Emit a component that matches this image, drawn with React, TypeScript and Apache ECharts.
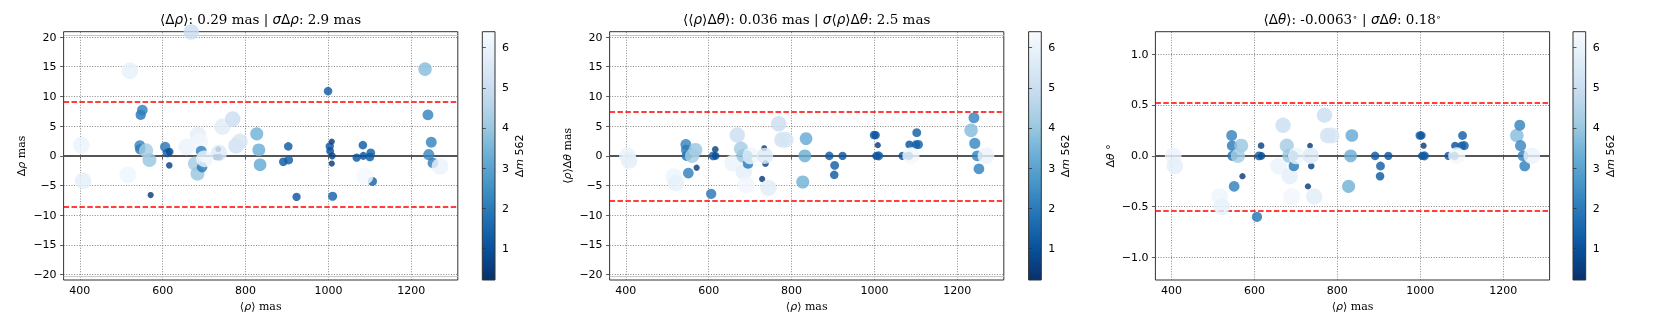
import React, { useEffect, useRef } from 'react';
import * as echarts from 'echarts';

// ---- data ----
const rho = [404, 408, 516, 521, 545, 546, 547, 551, 568, 560, 571, 606, 611, 616, 617, 669, 658, 678, 685, 690, 684, 693, 695, 701, 734, 729, 737, 736, 744, 769, 777, 786, 827, 835, 832, 891, 904, 903, 923, 999, 1003, 1008, 1004, 1009, 1008, 1010, 1068, 1083, 1084, 1102, 1100, 1106, 1088, 1233, 1240, 1242, 1248, 1252, 1269];
const dm = [6.0, 5.8, 6.1, 5.9, 2.2, 2.0, 1.9, 2.1, 4.0, 4.2, 0.5, 1.9, 1.3, 0.6, 0.9, 5.0, 6.0, 4.2, 5.8, 6.2, 4.0, 2.2, 2.0, 6.1, 0.4, 0.5, 0.6, 5.6, 5.7, 5.0, 5.2, 5.4, 3.4, 3.2, 3.3, 1.2, 1.3, 1.2, 1.1, 1.2, 1.1, 0.5, 1.0, 0.7, 0.5, 1.4, 1.1, 1.2, 1.0, 1.3, 1.2, 1.4, 6.3, 3.7, 2.2, 2.3, 2.2, 2.1, 6.0];
const dRho = [1.8, -4.2, -3.2, 14.3, 1.7, 1.1, 6.9, 7.7, -0.7, 0.9, -6.6, 1.5, 0.5, -1.6, 0.7, 20.85, 1.5, -1.3, 3.5, 2.4, -3.0, 0.8, -1.9, -0.5, 1.1, -0.2, -0.2, 0.5, 4.9, 6.2, 1.7, 2.4, 3.7, -1.5, 1.0, -1.0, -0.7, 1.6, -6.9, 10.9, 1.6, 2.4, 0.8, 0.0, -1.3, -6.8, -0.3, 1.8, 0.0, 0.5, -0.2, -4.3, -3.4, 14.6, 6.9, 0.2, 2.3, -1.2, -1.8];
const rhoDTheta = [0, -0.8, -3.5, -4.6, 1.9, 1.0, 0, -2.9, 1.0, 0, -2.0, -6.4, 0, 1.1, 0, 3.5, -1.2, 1.2, -2.7, -4.9, 0, 0, -1.3, 0, 1.3, -3.9, -1.3, 0, -5.4, 5.4, 2.7, 2.7, -4.4, 2.9, 0, 0, -1.6, -3.2, 0, 3.5, 3.5, 1.8, 0, 0, 0, 0, 0, 0, 1.9, 3.9, 1.9, 1.9, 0, 4.3, 6.4, 2.1, 0, -2.2, 0];
const dTheta = [0, -0.1, -0.4, -0.5, 0.2, 0.1, 0, -0.3, 0.1, 0, -0.2, -0.6, 0, 0.1, 0, 0.3, -0.1, 0.1, -0.2, -0.4, 0, 0, -0.1, 0, 0.1, -0.3, -0.1, 0, -0.4, 0.4, 0.2, 0.2, -0.3, 0.2, 0, 0, -0.1, -0.2, 0, 0.2, 0.2, 0.1, 0, 0, 0, 0, 0, 0, 0.1, 0.2, 0.1, 0.1, 0, 0.2, 0.3, 0.1, 0, -0.1, 0];

const xTicks = [400, 600, 800, 1000, 1200];
const yTicksMas = [-20, -15, -10, -5, 0, 5, 10, 15, 20];
const yTicksDeg = [-1.0, -0.5, 0, 0.5, 1.0];
const cbarTicks = [1, 2, 3, 4, 5, 6];
const limitsRho = [9.1, -8.5];
const limitsRhoTheta = [7.5, -7.5];
const limitsTheta = [0.52, -0.54];
const edgeLinesMas = [20.35, -20.35];
const dmRange = [0.21, 6.4];
const xRange = [361, 1312];
const yRangeMas = [-20.9, 20.9];
const yRangeDeg = [-1.22, 1.22];

// matplotlib "Blues" reversed (low -> dark)
const bluesR = ['#08306b', '#08519c', '#2171b5', '#4292c6', '#6baed6', '#9ecae1', '#c6dbef', '#deebf7', '#f7fbff'];

// ---- layout ----
const TOP = 31.7;
const GH = 248.3;
const GW = 394.2;
const mainLeft = [63.6, 609.6, 1155.4];
const cbLeft = [482.3, 1028.6, 1573];
const CBW = 12.7;

const SANS = 'DejaVu Sans';
const SERIF = 'DejaVu Serif';

const fmt = (v: number, d: number) => (v < 0 ? '\u2212' : '') + Math.abs(v).toFixed(d);

const richBase = (size: number) => ({
  s: { fontFamily: SANS, fontSize: size, color: '#000' },
  si: { fontFamily: SANS, fontStyle: 'italic', fontSize: size, color: '#000' },
});

const panels = [
  {
    y: dRho, yRange: yRangeMas, yTicks: yTicksMas, dec: 0, limits: limitsRho, edges: edgeLinesMas,
    yName: '{s|Δ}{si|ρ} mas', yGap: 37,
    title: '{s|⟨Δ}{si|ρ}{s|⟩}: 0.29 mas | {si|σ}{s|Δ}{si|ρ}: 2.9 mas',
  },
  {
    y: rhoDTheta, yRange: yRangeMas, yTicks: yTicksMas, dec: 0, limits: limitsRhoTheta, edges: edgeLinesMas,
    yName: '{s|⟨}{si|ρ}{s|⟩Δ}{si|θ} mas', yGap: 37,
    title: '{s|⟨⟨}{si|ρ}{s|⟩Δ}{si|θ}{s|⟩}: 0.036 mas | {si|σ}{s|⟨}{si|ρ}{s|⟩Δ}{si|θ}: 2.5 mas',
  },
  {
    y: dTheta, yRange: yRangeDeg, yTicks: yTicksDeg, dec: 1, limits: limitsTheta, edges: [] as number[],
    yName: '{s|Δ}{si|θ} {s|°}', yGap: 39,
    title: '{s|⟨Δ}{si|θ}{s|⟩}: -0.0063{sup|∘} | {si|σ}{s|Δ}{si|θ}: 0.18{sup|∘}',
  },
];

const gridLineStyle = { color: '#555', width: 0.7, type: [1, 1.6] as any };

function buildOption() {
  const mainGrid: any[] = [], cbGrid: any[] = [];
  const mainX: any[] = [], cbX: any[] = [];
  const mainY: any[] = [], cbY: any[] = [];
  const series: any[] = [];
  const visualMap: any[] = [];
  const graphic: any[] = [];

  panels.forEach((p, i) => {
    mainGrid.push({ left: mainLeft[i], top: TOP, width: GW, height: GH, show: true, borderColor: '#333', borderWidth: 1, backgroundColor: 'transparent' });
    mainX.push({
      type: 'value', gridIndex: i, min: xRange[0], max: xRange[1],
      axisLine: { show: false },
      axisTick: { show: true, inside: false, length: 3.5, lineStyle: { color: '#333', width: 0.8 }, customValues: xTicks },
      axisLabel: { customValues: xTicks, margin: 5, fontFamily: SANS, fontSize: 11, color: '#000', formatter: (v: number) => String(v) },
      splitLine: { show: false },
      name: '{s|⟨}{si|ρ}{s|⟩} mas', nameLocation: 'middle', nameGap: 21,
      nameTextStyle: { fontFamily: SERIF, fontSize: 11, color: '#000', rich: richBase(11) },
    });
    mainY.push({
      type: 'value', gridIndex: i, min: p.yRange[0], max: p.yRange[1],
      axisLine: { show: false },
      axisTick: { show: true, inside: false, length: 3.5, lineStyle: { color: '#333', width: 0.8 }, customValues: p.yTicks },
      axisLabel: { customValues: p.yTicks, margin: 7, fontFamily: SANS, fontSize: 11, color: '#000', formatter: (v: number) => fmt(v, p.dec) },
      splitLine: { show: false },
      name: p.yName, nameLocation: 'middle', nameGap: p.yGap, nameRotate: 90,
      nameTextStyle: { fontFamily: SERIF, fontSize: 11, color: '#000', rich: richBase(11) },
    });

    const lines: any[] = [];
    xTicks.forEach((v) => lines.push({ xAxis: v, lineStyle: gridLineStyle }));
    p.yTicks.forEach((v) => lines.push({ yAxis: v, lineStyle: gridLineStyle }));
    p.edges.forEach((v) => lines.push({ yAxis: v, lineStyle: { color: '#c8c8c8', width: 1, type: 'solid' } }));
    lines.push({ yAxis: 0, lineStyle: { color: '#555', width: 1.8, type: 'solid' } });
    p.limits.forEach((v) => lines.push({ yAxis: v, lineStyle: { color: '#ff0000', width: 1.5, type: [5.5, 2.4] } }));

    series.push({
      type: 'scatter', xAxisIndex: i, yAxisIndex: i, z: 3,
      data: rho.map((r, k) => [r, p.y[k], dm[k]]),
      symbolSize: (v: number[]) => 2 + 6 * Math.sqrt(v[2]),
      itemStyle: { opacity: 0.82 },
      markLine: { silent: true, symbol: 'none', label: { show: false }, z: 1, animation: false, data: lines },
    });

    visualMap.push({
      type: 'continuous', show: false, min: dmRange[0], max: dmRange[1], dimension: 2, seriesIndex: i,
      inRange: { color: bluesR },
    });

    // colorbar axis grid
    const ci = 3 + i;
    cbGrid.push({ left: cbLeft[i], top: TOP, width: CBW, height: GH, show: false });
    cbX.push({ type: 'value', gridIndex: ci, min: 0, max: 1, show: false });
    cbY.push({
      type: 'value', gridIndex: ci, position: 'right', min: dmRange[0], max: dmRange[1],
      axisLine: { show: false },
      axisTick: { show: true, inside: false, length: 3.5, lineStyle: { color: '#333', width: 0.8 }, customValues: cbarTicks },
      axisLabel: { customValues: cbarTicks, margin: 7, fontFamily: SANS, fontSize: 11, color: '#000', formatter: (v: number) => String(v) },
      splitLine: { show: false },
      name: '{s|Δ}{si|m} 562', nameLocation: 'middle', nameGap: 19, nameRotate: 90,
      nameTextStyle: { fontFamily: SANS, fontSize: 11, color: '#000', rich: richBase(11) },
    });

    graphic.push({
      type: 'rect', z: 0, silent: true,
      shape: { x: cbLeft[i], y: TOP, width: CBW, height: GH },
      style: {
        fill: new echarts.graphic.LinearGradient(0, 0, 0, 1, bluesR.slice().reverse().map((c, k, a) => ({ offset: k / (a.length - 1), color: c }))),
        stroke: '#333', lineWidth: 1,
      },
    });
    graphic.push({
      type: 'text', z: 5, silent: true,
      x: mainLeft[i] + GW / 2, y: 19,
      style: {
        text: p.title, fontFamily: SERIF, fontSize: 13.5, fill: '#000', align: 'center', verticalAlign: 'middle',
        rich: {
          s: { fontFamily: SANS, fontSize: 13.5, fill: '#000' },
          si: { fontFamily: SANS, fontStyle: 'italic', fontSize: 13.5, fill: '#000' },
          sup: { fontFamily: SANS, fontSize: 9, fill: '#000', verticalAlign: 'top' },
        },
      },
    });
  });

  return {
    animation: false,
    grid: [...mainGrid, ...cbGrid],
    xAxis: [...mainX, ...cbX],
    yAxis: [...mainY, ...cbY],
    series, visualMap, graphic,
  };
}

export default function App() {
  const ref = useRef<HTMLDivElement>(null);
  useEffect(() => {
    const chart = echarts.init(ref.current!, null, { renderer: 'svg' });
    chart.setOption(buildOption() as any);
    return () => chart.dispose();
  }, []);
  return <div ref={ref} style={{ position: 'fixed', left: 0, top: 0, width: 1661, height: 332 }} />;
}
